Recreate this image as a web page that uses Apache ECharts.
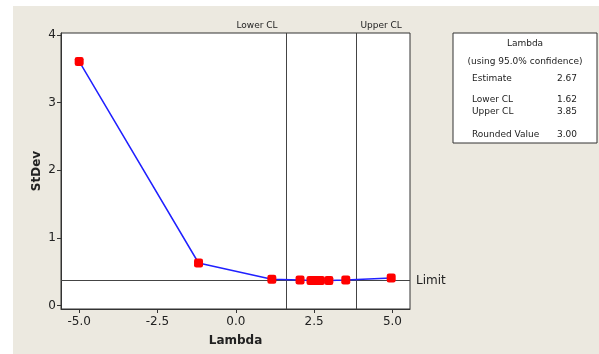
<!DOCTYPE html>
<html>
<head>
<meta charset="utf-8">
<script src="https://cdn.jsdelivr.net/npm/echarts@6/dist/echarts.min.js"></script>
<style>
  html, body { margin: 0; padding: 0; background: #fff; }
  #main { width: 599px; height: 354px; }
</style>
</head>
<body>
<div id="main"></div>
<script>
// lambda values tried and the StDev at each
const lambdas = [-5, -1.19, 1.15, 2.05, 2.4, 2.48, 2.55, 2.62, 2.7, 2.97, 3.51, 4.96];
const stdevs = [3.61, 0.63, 0.39, 0.38, 0.37, 0.37, 0.37, 0.37, 0.37, 0.37, 0.38, 0.41];
const xTicks = [-5, -2.5, 0, 2.5, 5];
const yTicks = [0, 1, 2, 3, 4];
const lowerCL = 1.62;
const upperCL = 3.85;
const limit = 0.374;
const summary = [
  ["Estimate", "2.67"],
  ["Lower CL", "1.62"],
  ["Upper CL", "3.85"],
  ["Rounded Value", "3.00"]
];

const font = "DejaVu Sans";
const ink = "#222";
const chart = echarts.init(document.getElementById("main"), null, { width: 599, height: 354 });

const option = {
  animation: false,
  grid: {
    left: 61, top: 33, right: 189, bottom: 45,
    show: true, backgroundColor: "#fff", borderColor: "#333", borderWidth: 1
  },
  xAxis: {
    type: "value",
    min: -5.58, max: 5.56,
    name: "Lambda", nameLocation: "middle", nameGap: 26,
    nameTextStyle: { fontFamily: font, fontWeight: "bold", fontSize: 12, color: ink },
    axisLine: { onZero: false, lineStyle: { color: "#333" } },
    axisTick: { customValues: xTicks, length: 4, lineStyle: { color: "#333" } },
    axisLabel: {
      customValues: xTicks, fontFamily: font, fontSize: 12, color: ink, margin: 7,
      formatter: v => v.toFixed(1)
    },
    splitLine: { show: false }
  },
  yAxis: {
    type: "value",
    min: -0.05, max: 4.03,
    name: "StDev", nameLocation: "middle", nameGap: 18, nameMoveOverlap: false,
    nameTextStyle: { fontFamily: font, fontWeight: "bold", fontSize: 12, color: ink },
    axisLine: { show: true, onZero: false, lineStyle: { color: "#333" } },
    axisTick: { show: true, customValues: yTicks, length: 4, lineStyle: { color: "#333" } },
    axisLabel: { customValues: yTicks, fontFamily: font, fontSize: 12, color: ink, margin: 5 },
    splitLine: { show: false }
  },
  series: [{
    type: "line",
    data: lambdas.map((x, i) => [x, stdevs[i]]),
    symbol: "roundRect",
    symbolSize: 9,
    itemStyle: { color: "#ff0000" },
    lineStyle: { color: "#2020ff", width: 1.5 },
    z: 5,
    markLine: {
      silent: true,
      symbol: "none",
      lineStyle: { color: "#444", width: 1, type: "solid" },
      label: { show: false },
      data: [
        { xAxis: lowerCL },
        { xAxis: upperCL },
        {
          yAxis: limit,
          label: { show: true, position: "end", formatter: "Limit", fontFamily: font, fontSize: 12, color: ink, distance: 6 }
        }
      ]
    }
  }]
};
chart.setOption(option);

const plotTop = 33;
const lx = chart.convertToPixel({ xAxisIndex: 0 }, lowerCL);
const ux = chart.convertToPixel({ xAxisIndex: 0 }, upperCL);
const small = { fontFamily: font, fontSize: 9, fill: ink };

const boxX = 453, boxY = 33, boxW = 144;
const rows = [];
const rowY = [79, 100, 112, 135];
summary.forEach((r, i) => {
  rows.push({ type: "text", x: boxX + 19, y: rowY[i], style: Object.assign({ text: r[0], verticalAlign: "middle" }, small) });
  rows.push({ type: "text", x: boxX + 124, y: rowY[i], style: Object.assign({ text: r[1], align: "right", verticalAlign: "middle" }, small) });
});

chart.setOption({
  graphic: [
    { type: "rect", z: -10, shape: { x: 13, y: 6, width: 586, height: 348 }, style: { fill: "#ece9e0" } },
    { type: "text", x: lx - 9, y: plotTop - 7, style: Object.assign({ text: "Lower CL", align: "right", verticalAlign: "middle" }, small) },
    { type: "text", x: ux + 4, y: plotTop - 7, style: Object.assign({ text: "Upper CL", align: "left", verticalAlign: "middle" }, small) },
    { type: "rect", shape: { x: boxX, y: boxY, width: boxW, height: 110 }, style: { fill: "#fff", stroke: "#333", lineWidth: 1 } },
    { type: "text", x: boxX + 72, y: 44, style: Object.assign({ text: "Lambda", align: "center", verticalAlign: "middle" }, small) },
    { type: "text", x: boxX + 72, y: 62, style: Object.assign({ text: "(using 95.0% confidence)", align: "center", verticalAlign: "middle" }, small) }
  ].concat(rows)
});
</script>
</body>
</html>
